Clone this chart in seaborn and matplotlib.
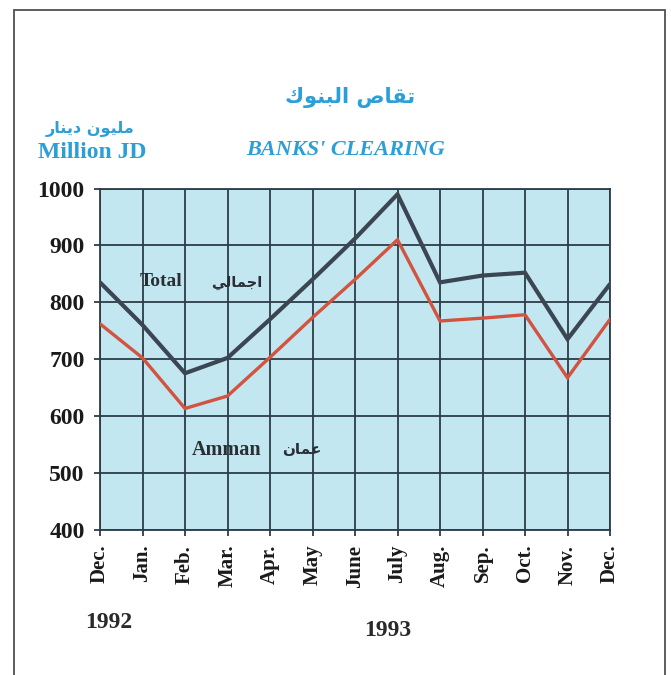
import matplotlib
matplotlib.use("Agg")
import matplotlib.pyplot as plt
import seaborn as sns
import pandas as pd
from matplotlib.patches import Rectangle

# ---------------- data ----------------
months = ["Dec.", "Jan.", "Feb.", "Mar.", "Apr.", "May", "June",
          "July", "Aug.", "Sep.", "Oct.", "Nov.", "Dec."]
total = [835, 760, 675, 702, 770, 840, 912, 990, 835, 847, 852, 735, 832]
amman = [762, 702, 613, 635, 703, 773, 840, 910, 767, 772, 778, 667, 770]
series_names = ["Total", "Amman"]
yticks = [400, 500, 600, 700, 800, 900, 1000]

title_ar = "تقاص البنوك"
title_en = "BANKS' CLEARING"
unit_ar = "مليون دينار"
unit_en = "Million JD"
total_ar = "اجمالي"
amman_ar = "عمان"
year1 = "1992"
year2 = "1993"

# ------------- simple Arabic shaping for display -------------
FORMS = {
    "ا": ("\uFE8D", "\uFE8E", "\uFE8D", "\uFE8E"),
    "ب": ("\uFE8F", "\uFE90", "\uFE91", "\uFE92"),
    "ت": ("\uFE95", "\uFE96", "\uFE97", "\uFE98"),
    "ج": ("\uFE9D", "\uFE9E", "\uFE9F", "\uFEA0"),
    "د": ("\uFEA9", "\uFEAA", "\uFEA9", "\uFEAA"),
    "ر": ("\uFEAD", "\uFEAE", "\uFEAD", "\uFEAE"),
    "ص": ("\uFEB9", "\uFEBA", "\uFEBB", "\uFEBC"),
    "ع": ("\uFEC9", "\uFECA", "\uFECB", "\uFECC"),
    "ق": ("\uFED5", "\uFED6", "\uFED7", "\uFED8"),
    "ك": ("\uFED9", "\uFEDA", "\uFEDB", "\uFEDC"),
    "ل": ("\uFEDD", "\uFEDE", "\uFEDF", "\uFEE0"),
    "م": ("\uFEE1", "\uFEE2", "\uFEE3", "\uFEE4"),
    "ن": ("\uFEE5", "\uFEE6", "\uFEE7", "\uFEE8"),
    "و": ("\uFEED", "\uFEEE", "\uFEED", "\uFEEE"),
    "ي": ("\uFEF1", "\uFEF2", "\uFEF3", "\uFEF4"),
}
DUAL = set("بتجصعقكلمني")


def shape(s):
    out = []
    for i, c in enumerate(s):
        if c not in FORMS:
            out.append(c)
            continue
        prev = s[i - 1] if i > 0 else ""
        nxt = s[i + 1] if i + 1 < len(s) else ""
        jp = prev in DUAL
        jn = (c in DUAL) and (nxt in FORMS)
        iso, fin, ini, med = FORMS[c]
        out.append(med if (jp and jn) else fin if jp else ini if jn else iso)
    return "".join(reversed(out))


# ---------------- figure ----------------
sns.set_theme(style="white")
plt.rcParams["font.family"] = ["Liberation Serif", "DejaVu Sans"]

W, H = 671, 675
fig = plt.figure(figsize=(W / 100, H / 100), dpi=100)
fig.patch.set_facecolor("white")

ax = fig.add_axes([100 / W, 1 - 529.5 / H, 510 / W, (529.5 - 188.6) / H])
ax.set_facecolor("#c3e7f0")

x = list(range(len(months)))
df = pd.DataFrame({
    "x": x + x,
    "value": total + amman,
    "series": [series_names[0]] * len(x) + [series_names[1]] * len(x),
})
sns.lineplot(data=df, x="x", y="value", hue="series", ax=ax,
             palette={"Total": "#3b4652", "Amman": "#d2533f"},
             legend=False, zorder=3)
for line, lw in zip(ax.get_lines(), [3.0, 2.4]):
    line.set_linewidth(lw)
    line.set_solid_joinstyle("miter")

ax.set_xlim(0, len(months) - 1)
ax.set_ylim(400, 1000)
ax.set_xticks(x)
ax.set_xticklabels(months, rotation=90, fontsize=15, fontweight="bold",
                   family="Liberation Serif", va="top")
ax.set_yticks(yticks)
ax.set_yticklabels([str(v) for v in yticks], fontsize=17, fontweight="bold",
                   family="Liberation Serif")
ax.set_xlabel("")
ax.set_ylabel("")
gridc = "#2c3d46"
ax.grid(True, color=gridc, linewidth=1.3, zorder=1)
ax.set_axisbelow(True)
for sp in ax.spines.values():
    sp.set_color(gridc)
    sp.set_linewidth(1.3)
ax.tick_params(axis="both", direction="out", length=4, width=1.3,
               color=gridc, labelcolor="#1a1a1a")
ax.tick_params(axis="y", pad=7, left=True)
ax.tick_params(axis="x", pad=7, bottom=True)

cyan = "#2a9fd8"


def ftext(px, py, s, **kw):
    fig.text(px / W, 1 - py / H, s, ha="center", va="center", **kw)


ftext(350, 97, shape(title_ar), color=cyan, fontsize=15, fontweight="bold",
      family=["DejaVu Sans"])
ftext(346, 150, title_en, color=cyan, fontsize=16, fontweight="bold",
      style="italic", family=["Liberation Serif"])
ftext(90, 129, shape(unit_ar), color=cyan, fontsize=11.5, fontweight="bold",
      family=["DejaVu Sans"])
ftext(92, 153, unit_en, color=cyan, fontsize=17, fontweight="bold",
      family=["Liberation Serif"])

ftext(161.5, 281, "Total", color="#2a2f35", fontsize=14, fontweight="bold",
      family=["Liberation Serif"])
ftext(236.5, 282, shape(total_ar), color="#2a2f35", fontsize=10.5,
      fontweight="bold", family=["DejaVu Sans"])
ftext(227, 450, "Amman", color="#2a2f35", fontsize=14.5, fontweight="bold",
      family=["Liberation Serif"])
ftext(302, 450, shape(amman_ar), color="#2a2f35", fontsize=11,
      fontweight="bold", family=["DejaVu Sans"])

ftext(109, 623, year1, color="#2a2a2a", fontsize=17, fontweight="bold",
      family=["Liberation Serif"])
ftext(388, 630, year2, color="#2a2a2a", fontsize=17, fontweight="bold",
      family=["Liberation Serif"])

frame = Rectangle((14 / W, -0.05), (665 - 14) / W, 1.05 - 10 / H,
                  transform=fig.transFigure, fill=False,
                  edgecolor="#505050", linewidth=1.3, clip_on=False)
fig.patches.append(frame)

fig.savefig("out.png", dpi=100)
